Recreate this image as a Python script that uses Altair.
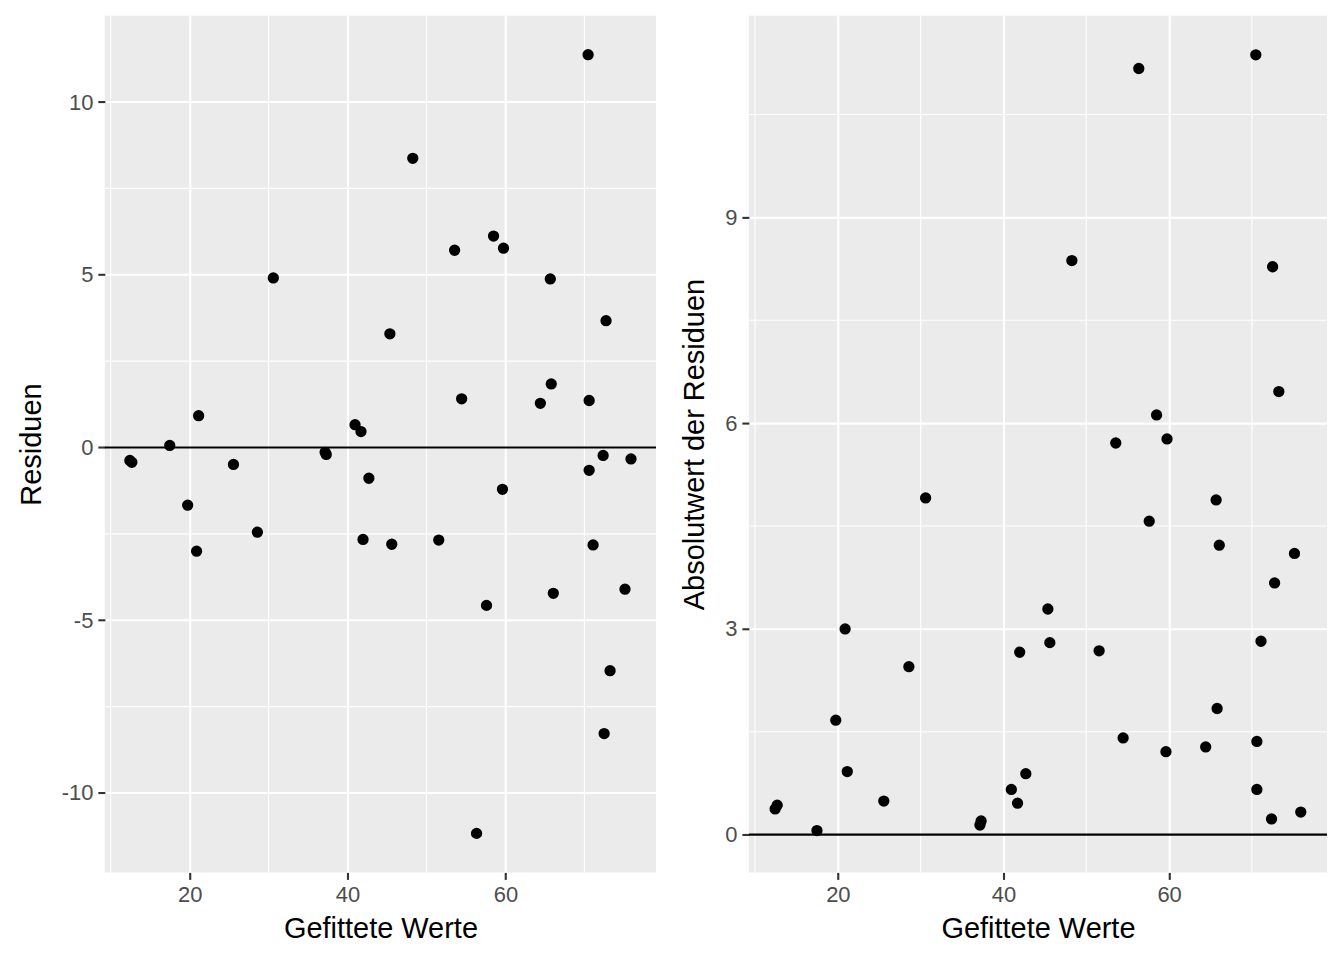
import altair as alt
import pandas as pd

# Fitted values and residuals
fitted = [12.43, 12.68, 17.48, 19.75, 20.88, 21.14, 25.55, 28.58, 30.6, 37.16,
          37.3, 40.95, 41.7, 42.7, 41.96, 45.36, 45.6, 48.26, 51.55, 53.56,
          54.45, 56.34, 57.6, 58.49, 59.75, 59.62, 64.42, 65.68, 65.8, 66.06,
          70.47, 70.6, 70.6, 71.1, 72.37, 72.5, 72.74, 73.25, 75.14, 75.9]
resid = [-0.375, -0.43, 0.06, -1.67, -3.0, 0.92, -0.49, -2.45, 4.91, -0.14,
         -0.2, 0.66, 0.46, -0.89, -2.66, 3.29, -2.8, 8.37, -2.68, 5.71,
         1.41, -11.17, -4.57, 6.12, 5.77, -1.21, 1.28, 4.88, 1.84, -4.22,
         11.37, 1.36, -0.66, -2.82, -0.23, -8.28, 3.67, -6.46, -4.1, -0.33]

x_major = [20, 40, 60]
x_minor = [10, 30, 50, 70]
y1_major = [-10, -5, 0, 5, 10]
y1_minor = [-7.5, -2.5, 2.5, 7.5]
y2_major = [0, 3, 6, 9]
y2_minor = [1.5, 4.5, 7.5, 10.5]

df = pd.DataFrame({"fitted": fitted, "resid": resid})
df["absres"] = df["resid"].abs()

FONT = "Liberation Sans"
X_DOMAIN = [9.26, 79.07]
LABEL_EXPR = "toString(datum.value)"

def xenc():
    return alt.X("fitted:Q", title="Gefittete Werte",
                 scale=alt.Scale(domain=X_DOMAIN, nice=False, zero=False),
                 axis=alt.Axis(values=x_major, labelExpr=LABEL_EXPR))

def panel(yfield, ytitle, ydomain, ymajor, yminor, w):
    def yenc():
        return alt.Y(f"{yfield}:Q", title=ytitle,
                     scale=alt.Scale(domain=ydomain, nice=False, zero=False),
                     axis=alt.Axis(values=ymajor, labelExpr=LABEL_EXPR))
    vminor = alt.Chart(pd.DataFrame({"fitted": x_minor})).mark_rule(
        color="white", strokeWidth=1.1).encode(x=xenc())
    hminor = alt.Chart(pd.DataFrame({yfield: yminor})).mark_rule(
        color="white", strokeWidth=1.1).encode(y=yenc())
    zero = alt.Chart(pd.DataFrame({yfield: [0]})).mark_rule(
        color="black", strokeWidth=2.2).encode(y=yenc())
    pts = alt.Chart(df).mark_circle(size=128, color="black", opacity=1).encode(
        x=xenc(), y=yenc())
    return alt.layer(vminor, hminor, zero, pts).properties(width=w, height=858)

left = panel("resid", "Residuen", [-12.3, 12.5], y1_major, y1_minor, 552)
right = panel("absres", "Absolutwert der Residuen", [-0.55, 11.94],
              y2_major, y2_minor, 579)

chart = alt.hconcat(left, right, spacing=93, bounds="flush").properties(
    padding={"left": 17, "top": 14, "right": 15, "bottom": 10},
).configure_view(
    fill="#EBEBEB", stroke=None
).configure_axis(
    domain=False,
    grid=True, gridColor="white", gridWidth=2.1,
    tickColor="#333333", tickWidth=2.1, tickSize=7,
    labelFont=FONT, labelFontSize=22, labelColor="#4D4D4D", labelPadding=5,
    titleFont=FONT, titleFontSize=29, titleFontWeight="normal", titleColor="black",
).configure_axisX(titlePadding=9).configure_axisY(titlePadding=15)

chart.save("out.html", embed_options={"renderer": "svg", "actions": False})
